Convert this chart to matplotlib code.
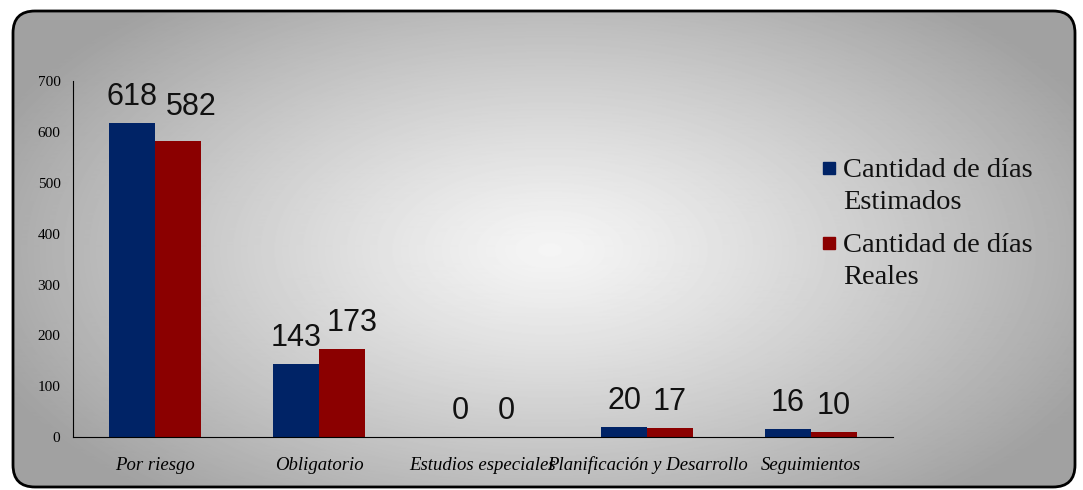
import numpy as np
import matplotlib
matplotlib.use("Agg")
import matplotlib.pyplot as plt
from matplotlib.patches import FancyBboxPatch, Rectangle

categorias = ["Por riesgo", "Obligatorio", "Estudios especiales",
              "Planificación y Desarrollo", "Seguimientos"]
estimados = [618, 143, 0, 20, 16]
reales = [582, 173, 0, 17, 10]
series = ["Cantidad de días\nEstimados", "Cantidad de días\nReales"]
colores = ["#002366", "#8b0000"]

fig = plt.figure(figsize=(10.83, 4.9), dpi=100)

# background: rounded box with radial grey gradient (pixel coords)
bg = fig.add_axes([0, 0, 1, 1], zorder=-10)
bg.set_xlim(0, 1083)
bg.set_ylim(490, 0)
bg.axis("off")
yy, xx = np.mgrid[0:490, 0:1083]
r = np.sqrt(((xx - 550) / 560.0) ** 2 + ((yy - 250) / 300.0) ** 2)
grad = np.clip(0.96 - 0.30 * r ** 1.2, 0.63, 1.0)
im = bg.imshow(grad, cmap="gray", vmin=0, vmax=1, extent=(0, 1083, 490, 0))
box = FancyBboxPatch((13, 11), 1062, 476, boxstyle="round,pad=0,rounding_size=22",
                     facecolor="none", edgecolor="black", linewidth=2)
bg.add_patch(box)
im.set_clip_path(box)

ax = fig.add_axes([0.0674, 0.108, 0.7572, 0.7265])
ax.patch.set_alpha(0)
x = np.arange(len(categorias))
w = 0.28
b1 = ax.bar(x - w / 2, estimados, w, color=colores[0])
b2 = ax.bar(x + w / 2, reales, w, color=colores[1])

# label nudges (points) like excel does to avoid collisions
nudge = {(1, 0): (9.5, 6), (1, 1): (7, 0)}
for k, (bars, vals) in enumerate(((b1, estimados), (b2, reales))):
    for i, (b, v) in enumerate(zip(bars, vals)):
        ddx, ddy = nudge.get((k, i), (0, 0))
        ax.annotate(str(v), (b.get_x() + b.get_width() / 2, v), xytext=(ddx, 8 + ddy),
                    textcoords="offset points", ha="center", va="bottom",
                    fontsize=22, family="Liberation Sans", color="#111111")

ax.set_xlim(-0.5, 4.5)
ax.set_ylim(0, 700)
ax.set_yticks(range(0, 701, 100))
ax.set_yticklabels([str(v) for v in range(0, 701, 100)], family="Liberation Serif", fontsize=11)
ax.set_xticks(x)
ax.set_xticklabels(categorias, family="Liberation Serif", style="italic", fontsize=13.5)
ax.tick_params(axis="both", length=0)
ax.tick_params(axis="y", pad=9)
ax.tick_params(axis="x", pad=14)
for s in ("top", "right"):
    ax.spines[s].set_visible(False)
ax.spines["left"].set_color("black")
ax.spines["bottom"].set_color("black")

# legend drawn by hand so the square sits on the first line
y0 = 177
for c, lab in zip(colores, series):
    bg.add_patch(Rectangle((823, y0 - 15), 12, 12, color=c))
    for j, line in enumerate(lab.split("\n")):
        bg.text(843, y0 + j * 32, line, va="baseline", ha="left",
                fontsize=20.5, family="Liberation Serif", color="#111111")
    y0 += 75

fig.savefig("out.png", dpi=100)
